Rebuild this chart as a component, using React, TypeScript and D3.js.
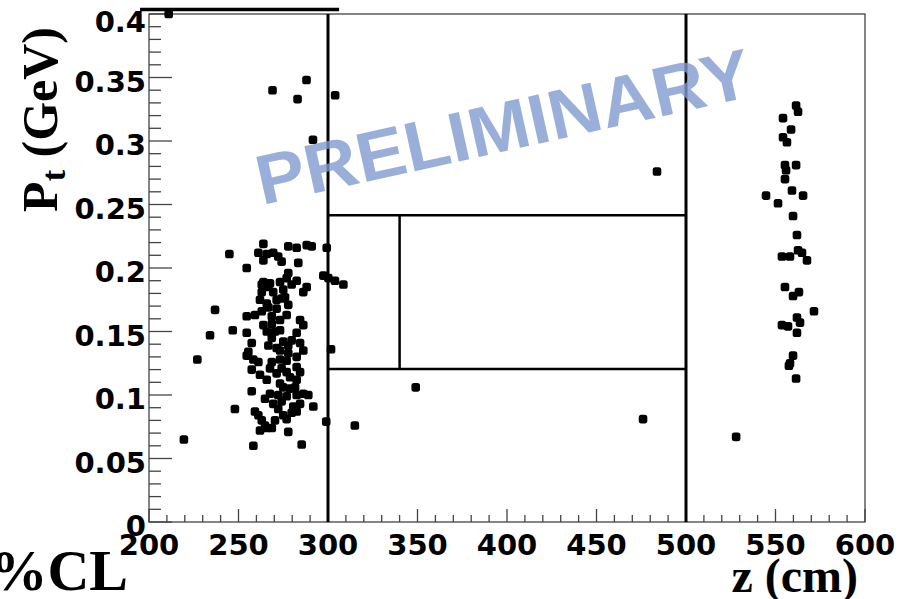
import React from "react";
import * as d3 from "d3";

// ---- data (z in cm, Pt in GeV) ----
const leftZ = [244.9,254.6,263.9,261.1,265.8,269.4,272.2,274.1,263.9,277.8,282.5,288.1,290.9,299.3,283.4,297.4,300.2,303.9,308.6,277.8,282.5,288.1,286.2,263.9,267.6,273.2,276.9,279.7,263.0,262.0,274.1,277.8,266.7,271.3,276.9,263.0,268.6,236.9,254.6,259.2,263.9,268.6,265.8,268.6,273.2,286.2,282.5,279.7,284.4,286.2,246.8,234.1,254.6,257.4,255.5,254.6,227.0,266.7,273.2,277.8,282.5,276.9,268.6,274.1,282.5,278.8,273.2,284.4,282.5,257.4,262.0,265.8,257.4,267.6,264.8,269.4,274.1,272.2,276.9,282.5,286.2,289.0,291.8,284.4,280.6,248.0,259.2,261.1,263.0,264.8,262.0,265.8,268.6,276.9,279.7,282.5,277.8,258.3,285.3,269.4,275.0,266.7,276.0,273.2,270.4,275.0,271.3,277.8,273.2,271.3,276.9,275.0,278.8,272.2,275.0,270.4,281.6,267.6,261.1,258.3,271.3,265.8,263.0,284.4];
const leftPt = [0.211,0.200,0.219,0.212,0.211,0.212,0.209,0.205,0.206,0.217,0.216,0.218,0.217,0.216,0.204,0.194,0.192,0.190,0.187,0.196,0.190,0.185,0.181,0.189,0.188,0.189,0.192,0.187,0.181,0.175,0.176,0.171,0.169,0.168,0.163,0.166,0.162,0.167,0.162,0.163,0.155,0.156,0.150,0.145,0.151,0.155,0.149,0.143,0.141,0.135,0.151,0.147,0.149,0.141,0.134,0.131,0.128,0.139,0.135,0.133,0.130,0.127,0.126,0.121,0.122,0.114,0.109,0.118,0.112,0.120,0.116,0.112,0.103,0.101,0.097,0.093,0.095,0.100,0.099,0.100,0.101,0.100,0.091,0.093,0.091,0.089,0.087,0.084,0.080,0.076,0.072,0.074,0.074,0.081,0.086,0.087,0.071,0.060,0.061,0.181,0.183,0.185,0.177,0.159,0.150,0.142,0.137,0.139,0.128,0.117,0.118,0.106,0.105,0.089,0.084,0.080,0.106,0.121,0.126,0.128,0.175,0.172,0.187,0.159];
const rightZ = [561.5,562.6,554.2,558.7,554.2,556.4,555.3,561.5,555.9,555.3,559.2,565.4,544.7,551.4,559.8,562.0,553.6,558.1,562.6,564.8,567.6,555.3,559.8,563.1,571.5,553.6,557.0,562.0,563.7,562.0,559.8,558.1,557.5,561.5];
const rightPt = [0.328,0.323,0.318,0.309,0.303,0.299,0.281,0.281,0.277,0.270,0.261,0.257,0.257,0.251,0.241,0.226,0.209,0.209,0.214,0.212,0.206,0.185,0.178,0.181,0.166,0.155,0.154,0.161,0.157,0.149,0.131,0.125,0.123,0.113];
const strayZ = [211,269,283,288,304,291.6,483.8,349,476,315,528,219.5,299,301.7];
const strayPt = [0.4,0.340,0.333,0.348,0.336,0.301,0.276,0.106,0.081,0.076,0.067,0.065,0.079,0.136];

// region boundaries
const zCuts = [300, 500];
const ptCuts = [0.1205, 0.2415];
const zInner = 340;
const topBar = [195, 306.2];
const topBarPt = 0.4035;

const xMajor = d3.range(200, 601, 50);
const xMinor = d3.range(200, 601, 10);
const yMajor = d3.range(0, 9).map((i) => i * 0.05);
const yMinor = d3.range(0, 41).map((i) => i / 100);
const xTickLabels = ["200","250","300","350","400","450","500","550","600"];
const yTickLabels = ["0","0.05","0.1","0.15","0.2","0.25","0.3","0.35","0.4"];

export default function App() {
  const W = 908, H = 599;
  const x = d3.scaleLinear().domain([200, 600]).range([149, 865]);
  const y = d3.scaleLinear().domain([0, 0.4]).range([522, 14]);
  const pts: [number, number][] = [];
  leftZ.forEach((z, i) => pts.push([z, leftPt[i]]));
  rightZ.forEach((z, i) => pts.push([z, rightPt[i]]));
  strayZ.forEach((z, i) => pts.push([z, strayPt[i]]));
  const sans = "DejaVu Sans";
  const serif = "Liberation Serif";
  const m = 8.6;
  return (
    <svg width={W} height={H} style={{ position: "absolute", left: 0, top: 0, background: "#fff" }}>
      <rect x={0} y={0} width={W} height={H} fill="#fff" />
      {/* frame */}
      <rect x={x(200)} y={y(0.4)} width={x(600) - x(200)} height={y(0) - y(0.4)} fill="none" stroke="#444" strokeWidth={1.3} />
      {/* ticks */}
      {xMinor.map((v) => {
        const major = v % 50 === 0;
        return <line key={"xt" + v} x1={x(v)} x2={x(v)} y1={y(0)} y2={y(0) - (major ? 13 : 7)} stroke="#444" strokeWidth={1.3} />;
      })}
      {yMinor.map((v, i) => {
        const major = i % 5 === 0;
        return <line key={"yt" + i} x1={x(200)} x2={x(200) + (major ? 23 : 12)} y1={y(v)} y2={y(v)} stroke="#444" strokeWidth={1.3} />;
      })}
      {/* tick labels */}
      {xMajor.map((v, i) => (
        <text key={"xl" + v} x={x(v)} y={555} textAnchor="middle" fontFamily={sans} fontWeight="bold" fontSize={29} fill="#000">{xTickLabels[i]}</text>
      ))}
      {yMajor.map((v, i) => (
        <text key={"yl" + i} x={146} y={Math.max(y(v) + 4, 22)} textAnchor="end" dominantBaseline="central" fontFamily={sans} fontWeight="bold" fontSize={29} fill="#000">{yTickLabels[i]}</text>
      ))}
      {/* region lines */}
      {zCuts.map((z) => (
        <line key={"zc" + z} x1={x(z)} x2={x(z)} y1={y(0)} y2={y(0.4)} stroke="#000" strokeWidth={3} />
      ))}
      {ptCuts.map((p) => (
        <line key={"pc" + p} x1={x(zCuts[0])} x2={x(zCuts[1])} y1={y(p)} y2={y(p)} stroke="#000" strokeWidth={2.5} />
      ))}
      <line x1={x(zInner)} x2={x(zInner)} y1={y(ptCuts[0])} y2={y(ptCuts[1])} stroke="#000" strokeWidth={2.5} />
      <line x1={x(topBar[0])} x2={x(topBar[1])} y1={y(topBarPt)} y2={y(topBarPt)} stroke="#000" strokeWidth={3.5} />
      {/* points */}
      {pts.map(([z, p], i) => (
        <rect key={"p" + i} x={x(z) - m / 2} y={y(p) - m / 2} width={m} height={m} rx={2.6} fill="#000" />
      ))}
      {/* watermark */}
      <text transform="translate(262,205) rotate(-12.5)" fontFamily="Liberation Sans" fontWeight="bold" fontSize={70} fill="#7f9bd0" fillOpacity={0.8} textLength={505} lengthAdjust="spacingAndGlyphs">PRELIMINARY</text>
      {/* axis titles */}
      <text transform="translate(57,27) rotate(-90)" textAnchor="end" fontFamily={serif} fontWeight="bold" fontSize={50} fill="#000">
        P<tspan fontSize={34} dy={8}>t</tspan><tspan dy={-8}> (GeV)</tspan>
      </text>
      <text x={858} y={592} textAnchor="end" fontFamily={serif} fontWeight="bold" fontSize={48} fill="#000">z (cm)</text>
      <text x={128} y={590} textAnchor="end" fontFamily={serif} fontWeight="bold" fontSize={58} fill="#000">%CL</text>
    </svg>
  );
}
